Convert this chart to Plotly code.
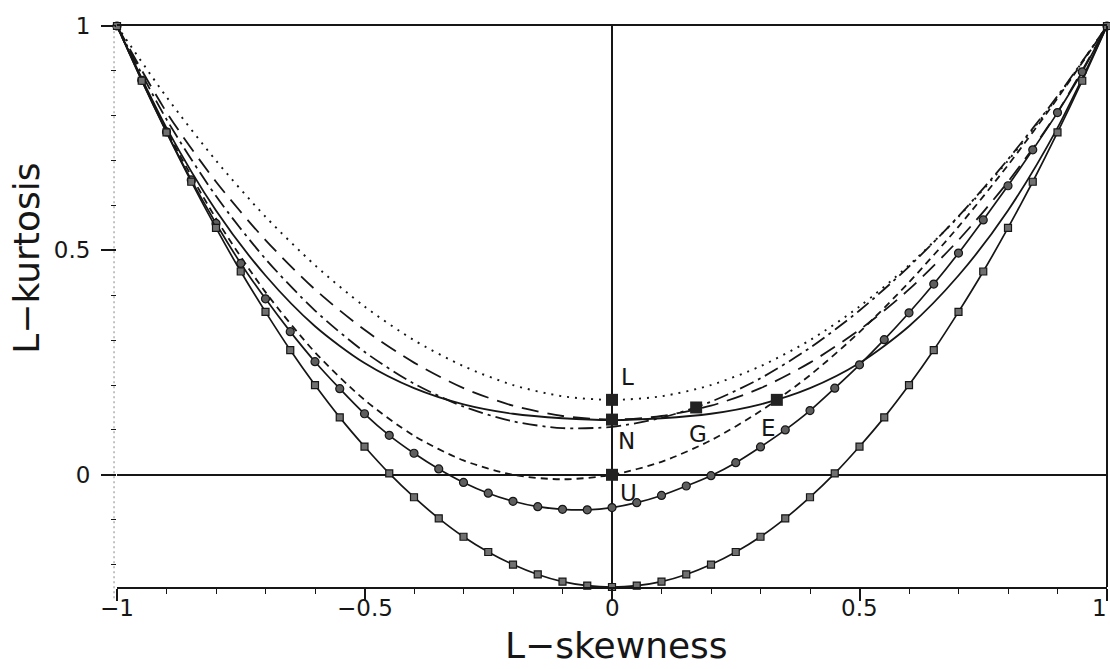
import plotly.graph_objects as go

# ---------------- data ----------------
tau3_coarse = [-1.0, -0.9, -0.8, -0.7, -0.6, -0.5, -0.4, -0.3, -0.2, -0.1, 0.0,
               0.1, 0.2, 0.3, 0.4, 0.5, 0.6, 0.7, 0.8, 0.9, 1.0]
# generalized logistic (dotted, through L)
glo = [1.0, 0.842, 0.700, 0.575, 0.467, 0.375, 0.300, 0.242, 0.200, 0.175, 0.167,
       0.175, 0.200, 0.242, 0.300, 0.375, 0.467, 0.575, 0.700, 0.842, 1.0]
# generalized extreme value (dash-dot, through G)
gev = [1.0, 0.792, 0.621, 0.481, 0.366, 0.274, 0.203, 0.152, 0.119, 0.104, 0.107,
       0.127, 0.163, 0.215, 0.283, 0.366, 0.464, 0.576, 0.703, 0.844, 1.0]
# lognormal (long dash, through N)
gno = [1.0, 0.808, 0.653, 0.523, 0.413, 0.323, 0.250, 0.193, 0.154, 0.131, 0.123,
       0.131, 0.154, 0.193, 0.250, 0.323, 0.413, 0.523, 0.653, 0.808, 1.0]
# Pearson type III (solid, through N and E)
pe3 = [1.0, 0.773, 0.589, 0.444, 0.331, 0.249, 0.193, 0.157, 0.136, 0.126, 0.122,
       0.126, 0.136, 0.157, 0.193, 0.249, 0.331, 0.444, 0.589, 0.773, 1.0]
# generalized Pareto (short dash, through U and E)
gpa = [1.0, 0.768, 0.571, 0.407, 0.273, 0.167, 0.087, 0.032, 0.000, -0.010, 0.000,
       0.029, 0.077, 0.142, 0.222, 0.318, 0.429, 0.553, 0.690, 0.839, 1.0]

tau3_fine = [-1.0, -0.95, -0.9, -0.85, -0.8, -0.75, -0.7, -0.65, -0.6, -0.55, -0.5,
             -0.45, -0.4, -0.35, -0.3, -0.25, -0.2, -0.15, -0.1, -0.05, 0.0,
             0.05, 0.1, 0.15, 0.2, 0.25, 0.3, 0.35, 0.4, 0.45, 0.5,
             0.55, 0.6, 0.65, 0.7, 0.75, 0.8, 0.85, 0.9, 0.95, 1.0]
# lower bound for Wakeby distributions (solid with circles)
wak_lb = [1.0, 0.879, 0.764, 0.657, 0.560, 0.471, 0.392, 0.319, 0.252, 0.192, 0.136,
          0.088, 0.048, 0.013, -0.017, -0.041, -0.059, -0.071, -0.077, -0.078, -0.073,
          -0.062, -0.046, -0.025, -0.002, 0.027, 0.062, 0.100, 0.143, 0.193, 0.245,
          0.301, 0.361, 0.425, 0.494, 0.568, 0.644, 0.724, 0.807, 0.898, 1.0]
# overall lower bound (solid with squares)
olb = [1.0, 0.878, 0.763, 0.653, 0.550, 0.453, 0.363, 0.278, 0.200, 0.128, 0.063,
       0.003, -0.050, -0.097, -0.138, -0.172, -0.200, -0.222, -0.238, -0.247, -0.250,
       -0.247, -0.238, -0.222, -0.200, -0.172, -0.138, -0.097, -0.050, 0.003, 0.063,
       0.128, 0.200, 0.278, 0.363, 0.453, 0.550, 0.653, 0.763, 0.878, 1.0]

pt_names = ["L", "N", "G", "E", "U"]
pt_tau3 = [0.0, 0.0, 0.170, 0.333, 0.0]
pt_tau4 = [0.167, 0.123, 0.150, 0.167, 0.0]

x_tickvals = [-1, -0.5, 0, 0.5, 1]
x_ticktext = ["\u22121", "\u22120.5", "0", "0.5", "1"]
y_tickvals = [0, 0.5, 1]
y_ticktext = ["0", "0.5", "1"]

# ---------------- styling ----------------
INK = "#161616"
FONT = "DejaVu Sans"

fig = go.Figure()

def curve(x, y, dash, width=1.8):
    fig.add_trace(go.Scatter(x=x, y=y, mode="lines",
                             line=dict(color=INK, width=width, dash=dash, shape="spline", smoothing=0.8),
                             cliponaxis=False, hoverinfo="skip"))

curve(tau3_coarse, glo, "2px,6px", 1.9)
curve(tau3_coarse, gno, "17px,9px")
curve(tau3_coarse, gev, "15px,5px,3px,5px")
curve(tau3_coarse, pe3, "solid")
curve(tau3_coarse, gpa, "7px,5px")

fig.add_trace(go.Scatter(x=tau3_fine, y=wak_lb, mode="lines+markers",
                         line=dict(color=INK, width=1.7, shape="spline", smoothing=0.6),
                         marker=dict(symbol="circle", size=8, color="#5e5e5e",
                                     line=dict(color=INK, width=1.2)),
                         cliponaxis=False, hoverinfo="skip"))
fig.add_trace(go.Scatter(x=tau3_fine, y=olb, mode="lines+markers",
                         line=dict(color=INK, width=1.7, shape="spline", smoothing=0.6),
                         marker=dict(symbol="square", size=7, color="#707070",
                                     line=dict(color=INK, width=1.2)),
                         cliponaxis=False, hoverinfo="skip"))
fig.add_trace(go.Scatter(x=pt_tau3, y=pt_tau4, mode="markers",
                         marker=dict(symbol="square", size=12, color="#222222"),
                         cliponaxis=False, hoverinfo="skip"))

label_offsets = {"L": (15, -23), "N": (14, 21), "G": (2, 27), "E": (-8, 28), "U": (16, 18)}
for name, x, y in zip(pt_names, pt_tau3, pt_tau4):
    dx, dy = label_offsets[name]
    fig.add_annotation(x=x, y=y, text=name, showarrow=False, xshift=dx, yshift=-dy,
                       font=dict(family=FONT, size=23, color=INK))

# x tick labels placed close under the ticks (last one kept inside the page)
for v, t in zip(x_tickvals, x_ticktext):
    anchor = "right" if v == 1 else "center"
    shift = 2 if v == 1 else 0
    fig.add_annotation(x=v, xref="x", yref="paper", y=0, yshift=-21, xshift=shift, text=t,
                       showarrow=False, yanchor="middle", xanchor=anchor,
                       font=dict(family=FONT, size=23, color=INK))

# frame lines
fig.add_shape(type="line", xref="paper", yref="paper", x0=1, x1=1, y0=0, y1=1,
              line=dict(color=INK, width=2))
fig.add_shape(type="line", xref="paper", yref="paper", x0=-0.003, x1=-0.003, y0=-0.02, y1=1,
              line=dict(color="#9a9a9a", width=1.2, dash="2px,3px"))

# axis titles
fig.add_annotation(xref="paper", yref="paper", x=0.505, y=0, yshift=-58, text="L\u2212skewness",
                   showarrow=False, font=dict(family=FONT, size=36, color=INK), yanchor="middle")
fig.add_annotation(xref="paper", yref="paper", x=0, xshift=-90, y=0.585, text="L\u2212kurtosis",
                   textangle=-90, showarrow=False, font=dict(family=FONT, size=36, color=INK),
                   xanchor="center")

fig.update_layout(
    width=1110, height=669,
    margin=dict(l=117, r=3, t=26, b=82),
    paper_bgcolor="white", plot_bgcolor="white",
    showlegend=False,
    xaxis=dict(range=[-1, 1], showgrid=False, zeroline=True, zerolinecolor=INK, zerolinewidth=1.7,
               showline=True, mirror=True, linecolor=INK, linewidth=2,
               ticks="outside", ticklen=12, tickwidth=1.5, tickcolor=INK,
               tickvals=x_tickvals, showticklabels=False,
               minor=dict(tickvals=[-0.9, -0.8, -0.7, -0.6, -0.4, -0.3, -0.2, -0.1,
                                    0.1, 0.2, 0.3, 0.4, 0.6, 0.7, 0.8, 0.9],
                          ticks="outside", ticklen=5, tickwidth=1.3, tickcolor=INK)),
    yaxis=dict(range=[-0.25, 1], showgrid=False, zeroline=True, zerolinecolor=INK, zerolinewidth=1.7,
               showline=False,
               ticks="outside", ticklen=15, tickwidth=1.5, tickcolor=INK,
               tickvals=y_tickvals, ticktext=y_ticktext, ticklabelstandoff=6,
               tickfont=dict(family=FONT, size=23, color=INK),
               minor=dict(tickvals=[-0.2, -0.1, 0.1, 0.2, 0.3, 0.4, 0.6, 0.7, 0.8, 0.9],
                          ticks="outside", ticklen=5, tickwidth=1.3, tickcolor=INK)),
)

fig.write_html("out.html")
